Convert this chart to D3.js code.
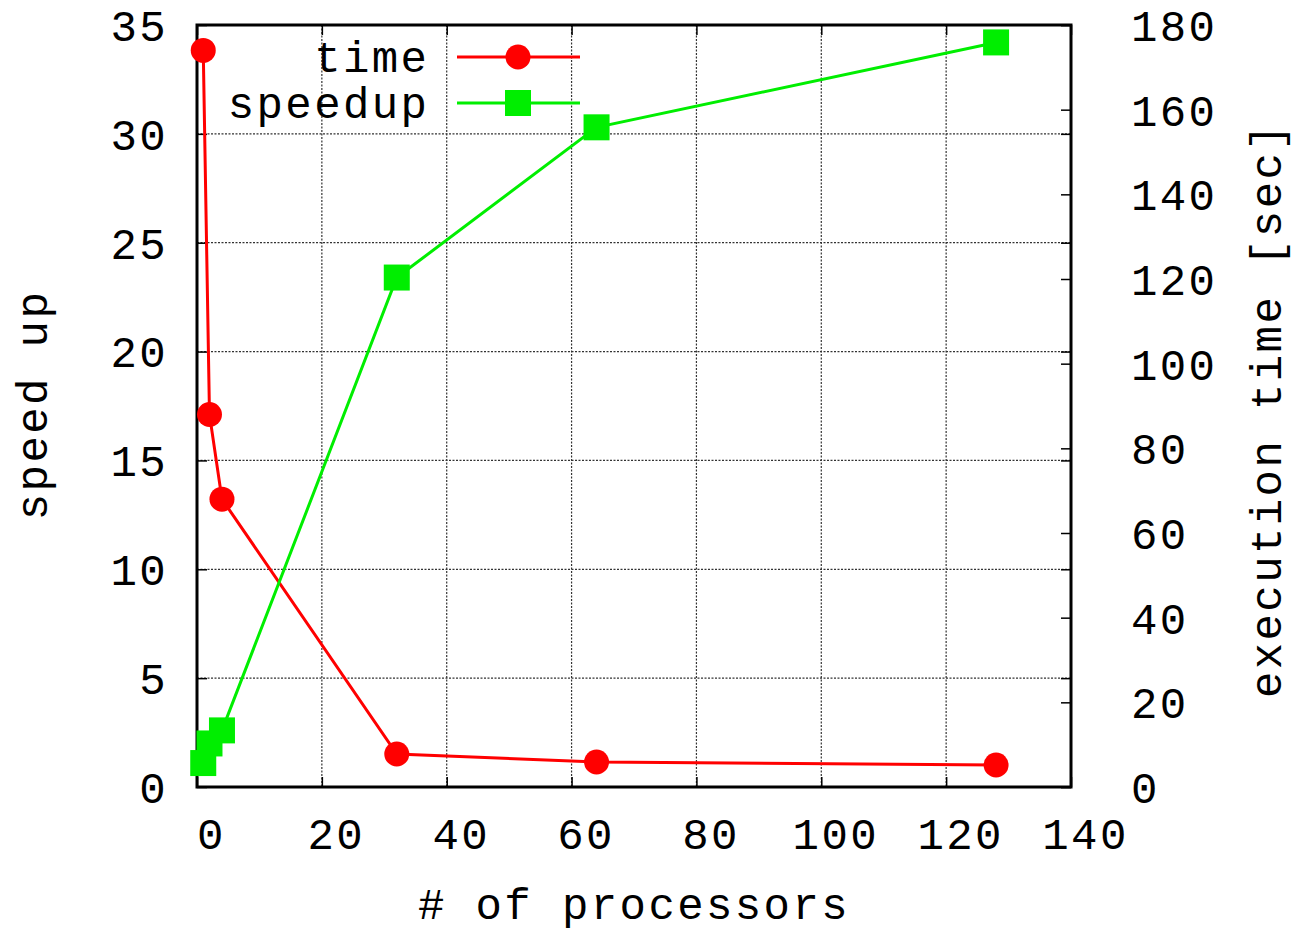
<!DOCTYPE html>
<html>
<head>
<meta charset="utf-8">
<script src="https://cdn.jsdelivr.net/npm/d3@7"></script>
<style>
  body { margin: 0; background: #fff; }
  text { font-family: "Liberation Mono", "Courier New", monospace; fill: #000; }
</style>
</head>
<body>
<script>
// chart values
var procs = [1, 2, 4, 32, 64, 128]
var timeSec = [174, 88, 68, 7.8, 5.9, 5.2]
var speedup = [1.1, 2.0, 2.6, 23.4, 30.3, 34.2]
var xTicks = [0, 20, 40, 60, 80, 100, 120, 140]
var yTicks = [0, 5, 10, 15, 20, 25, 30, 35]
var y2Ticks = [0, 20, 40, 60, 80, 100, 120, 140, 160, 180]

var width = 1293
var height = 933
// plot box (note: "top" is taken by window.top, so use other names)
var pLeft = 197, pRight = 1071, pTop = 25, pBottom = 787

var svg = d3.select("body").append("svg")
    .attr("width", width)
    .attr("height", height)

var x = d3.scaleLinear().domain([0, 140]).range([pLeft, pRight])
var y = d3.scaleLinear().domain([0, 35]).range([pBottom, pTop])
var y2 = d3.scaleLinear().domain([0, 180]).range([pBottom, pTop])

var fontSize = 44
var spacing = 2.4

// dotted grid
var grid = svg.append("g")
grid.selectAll("line.gx")
    .data(xTicks.filter(function(d){ return d > 0 && d < 140 }))
    .enter().append("line")
    .attr("x1", function(d){ return x(d) }).attr("x2", function(d){ return x(d) })
    .attr("y1", pTop).attr("y2", pBottom)
    .attr("stroke", "#333").attr("stroke-width", 1.2).attr("stroke-dasharray", "2,1.5")
grid.selectAll("line.gy")
    .data(yTicks.filter(function(d){ return d > 0 && d < 35 }))
    .enter().append("line")
    .attr("y1", function(d){ return y(d) }).attr("y2", function(d){ return y(d) })
    .attr("x1", pLeft).attr("x2", pRight)
    .attr("stroke", "#333").attr("stroke-width", 1.2).attr("stroke-dasharray", "2,1.5")

// axes (gnuplot style: inward ticks, mirrored)
var tick = 10
var xAxis = d3.axisBottom(x).tickValues(xTicks).tickSize(-tick).tickFormat(d3.format("d"))
var xTopAxis = d3.axisTop(x).tickValues(xTicks).tickSize(-tick).tickFormat("")
var yAxis = d3.axisLeft(y).tickValues(yTicks).tickSize(-tick).tickFormat(d3.format("d"))
var yRightMirror = d3.axisRight(y).tickValues(yTicks).tickSize(-tick).tickFormat("")
var y2Axis = d3.axisRight(y2).tickValues(y2Ticks).tickSize(-tick).tickFormat(d3.format("d"))

function styleAxis(g) {
    g.select(".domain").remove()
    g.selectAll(".tick line").attr("stroke", "#000").attr("stroke-width", 1.5)
    g.selectAll(".tick text")
        .style("font-family", "Liberation Mono, monospace")
        .style("letter-spacing", spacing + "px")
        .attr("font-size", fontSize).attr("fill", "#000")
}

svg.append("g").attr("transform", "translate(0," + pBottom + ")").call(xAxis).call(styleAxis)
    .selectAll(".tick text").attr("dx", 14).attr("dy", 0).attr("y", 62)
svg.append("g").attr("transform", "translate(0," + pTop + ")").call(xTopAxis).call(styleAxis)
svg.append("g").attr("transform", "translate(" + pLeft + ",0)").call(yAxis).call(styleAxis)
    .selectAll(".tick text").attr("x", -29).attr("dy", "0.35em")
svg.append("g").attr("transform", "translate(" + pRight + ",0)").call(yRightMirror).call(styleAxis)
svg.append("g").attr("transform", "translate(" + pRight + ",0)").call(y2Axis).call(styleAxis)
    .selectAll(".tick text").attr("x", 60).attr("dy", "0.35em")

// frame
svg.append("rect")
    .attr("x", pLeft).attr("y", pTop)
    .attr("width", pRight - pLeft).attr("height", pBottom - pTop)
    .attr("fill", "none").attr("stroke", "#000").attr("stroke-width", 3)

// series
var timeData = procs.map(function(p, i){ return [p, timeSec[i]] })
var speedData = procs.map(function(p, i){ return [p, speedup[i]] })

var timeLine = d3.line().x(function(d){ return x(d[0]) }).y(function(d){ return y2(d[1]) })
var speedLine = d3.line().x(function(d){ return x(d[0]) }).y(function(d){ return y(d[1]) })

svg.append("path").attr("d", timeLine(timeData))
    .attr("fill", "none").attr("stroke", "#ff0000").attr("stroke-width", 3)
svg.selectAll("circle.t").data(timeData).enter().append("circle")
    .attr("cx", function(d){ return x(d[0]) })
    .attr("cy", function(d){ return y2(d[1]) })
    .attr("r", 12.5).attr("fill", "#ff0000")

svg.append("path").attr("d", speedLine(speedData))
    .attr("fill", "none").attr("stroke", "#00ee00").attr("stroke-width", 3)
var sq = 26
svg.selectAll("rect.s").data(speedData).enter().append("rect")
    .attr("x", function(d){ return x(d[0]) - sq / 2 })
    .attr("y", function(d){ return y(d[1]) - sq / 2 })
    .attr("width", sq).attr("height", sq).attr("fill", "#00ee00")

// legend
var legend = svg.append("g")
var legendItems = [
    {label: "time", color: "#ff0000", shape: "circle", cy: 57},
    {label: "speedup", color: "#00ee00", shape: "square", cy: 103}
]
legendItems.forEach(function(it){
    legend.append("text").attr("x", 427 + spacing).attr("y", it.cy).attr("dy", "0.35em")
        .attr("text-anchor", "end").attr("font-size", fontSize)
        .style("letter-spacing", spacing + "px").text(it.label)
    legend.append("line").attr("x1", 457).attr("x2", 580).attr("y1", it.cy).attr("y2", it.cy)
        .attr("stroke", it.color).attr("stroke-width", 3)
    if (it.shape == "circle") {
        legend.append("circle").attr("cx", 518).attr("cy", it.cy).attr("r", 12.5).attr("fill", it.color)
    } else {
        legend.append("rect").attr("x", 518 - sq / 2).attr("y", it.cy - sq / 2)
            .attr("width", sq).attr("height", sq).attr("fill", it.color)
    }
})

// axis titles
svg.append("text").attr("x", 634).attr("y", 919).attr("text-anchor", "middle")
    .attr("font-size", fontSize).style("letter-spacing", spacing + "px").text("# of processors")
svg.append("text").attr("transform", "translate(47,405) rotate(-90)").attr("text-anchor", "middle")
    .attr("font-size", fontSize).style("letter-spacing", spacing + "px").text("speed up")
svg.append("text").attr("transform", "translate(1281,410) rotate(-90)").attr("text-anchor", "middle")
    .attr("font-size", fontSize).style("letter-spacing", spacing + "px").text("execution time [sec]")
</script>
</body>
</html>
